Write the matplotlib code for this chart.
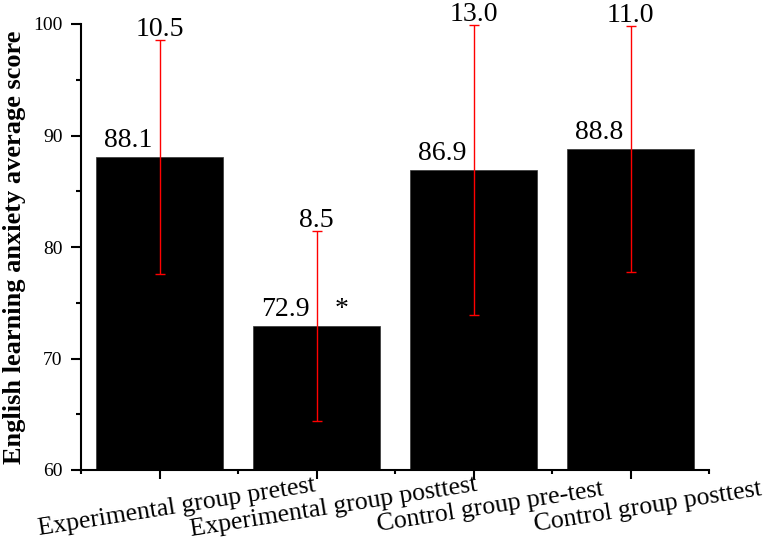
import numpy as np
import matplotlib
matplotlib.use("Agg")
import matplotlib.pyplot as plt
import matplotlib.transforms as mtransforms

groups = ["Experimental group pretest", "Experimental group posttest",
          "Control group pre-test", "Control group posttest"]
means = [88.1, 72.9, 86.9, 88.8]
sds = [10.5, 8.5, 13.0, 11.0]
star = [False, True, False, False]

plt.rcParams["font.family"] = ["Liberation Serif", "DejaVu Serif"]
px = 0.72  # pixel -> points at dpi 100

fig = plt.figure(figsize=(7.65, 5.42), dpi=100)
ax = fig.add_axes([81/765, 72/542, (709-81)/765, (470-24)/542])

x = np.arange(len(groups))
ax.bar(x, means, width=0.81, color="black", edgecolor="#333333", linewidth=0.5, zorder=2)
ax.errorbar(x, means, yerr=sds, fmt="none", ecolor="red", elinewidth=1,
            capsize=3.5, capthick=1, zorder=3)

for i in range(len(x)):
    ax.annotate(f"{means[i]:.1f}", (x[i], means[i]), xytext=(-31*px, 10*px),
                textcoords="offset points", ha="center", va="baseline", fontsize=20)
    ax.annotate(f"{sds[i]:.1f}", (x[i], means[i]+sds[i]), xytext=(0, 4*px),
                textcoords="offset points", ha="center", va="baseline", fontsize=20)
    if star[i]:
        ax.annotate("*", (x[i], means[i]), xytext=(25*px, 10*px),
                    textcoords="offset points", ha="center", va="baseline", fontsize=20)

ax.set_xlim(-0.5, 3.5)
ax.set_ylim(60, 100)
ax.set_xticks(x)
ax.set_xticks(np.arange(-0.5, 4, 1), minor=True)
ax.set_xticklabels([])
ax.set_yticks(np.arange(60, 101, 10))
ax.set_yticks(np.arange(65, 100, 10), minor=True)
ax.tick_params(axis="x", which="major", length=9*px, width=1.5, direction="out")
ax.tick_params(axis="x", which="minor", length=4*px, width=1.5, direction="out")
ax.tick_params(axis="y", which="major", length=10*px, width=1.5, direction="out",
               labelsize=14, pad=6)
ax.tick_params(axis="y", which="minor", length=5*px, width=1.5, direction="out")

for s in ["top", "right"]:
    ax.spines[s].set_visible(False)
for s in ["left", "bottom"]:
    ax.spines[s].set_linewidth(1.5)

# slanted group names under the bars
tr = ax.get_xaxis_transform() + mtransforms.ScaledTranslation(17/100, -37/100, fig.dpi_scale_trans)
for i, lab in enumerate(groups):
    ax.text(x[i], 0, lab, transform=tr, rotation=9, rotation_mode="anchor",
            ha="center", va="center", fontsize=18.5)

fig.text(15/765, 1-247/542, "English learning anxiety average score", rotation=90,
         ha="center", va="center", fontsize=19, fontweight="bold")

fig.savefig("out.png", dpi=100)
